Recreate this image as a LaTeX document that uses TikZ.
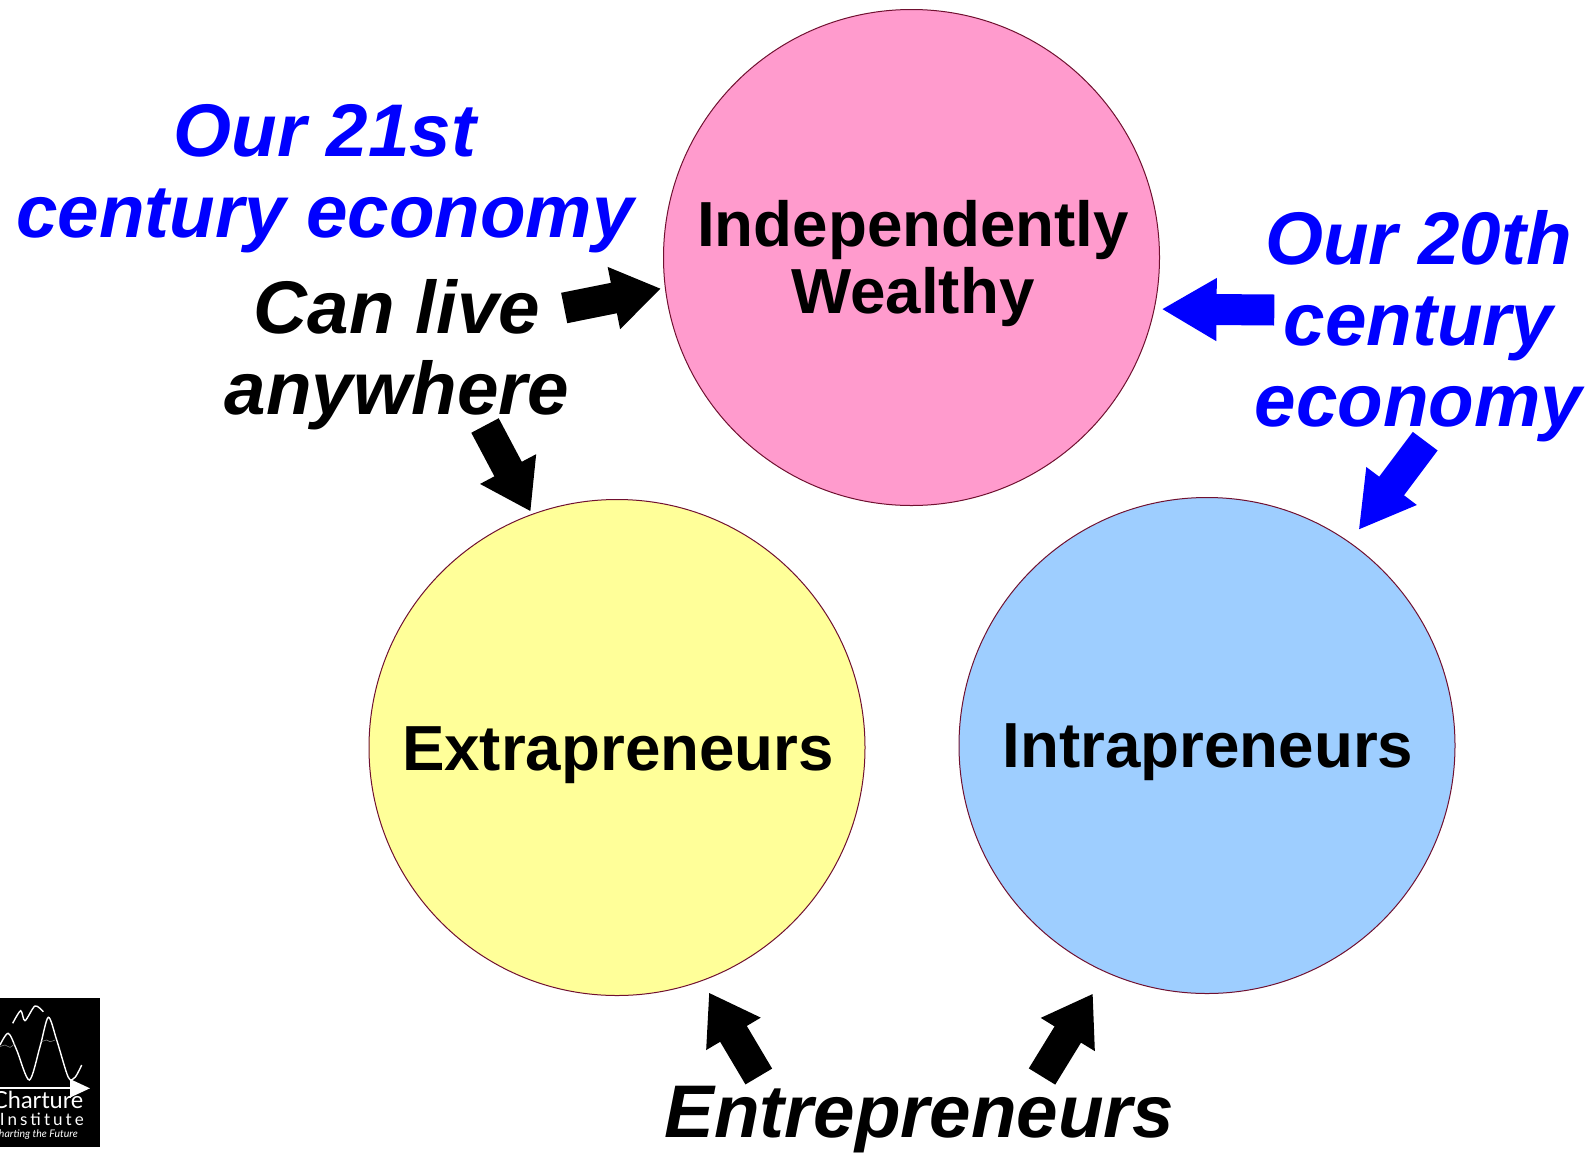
\documentclass[tikz,border=0pt]{standalone}
\usepackage{fontspec}
\setmainfont{Liberation Sans}
\newfontfamily\logofont{Lato}
\newfontfamily\logospaced[LetterSpace=18]{Lato}
\usetikzlibrary{arrows.meta,positioning}

\tikzset{
    realm/.style={circle,draw=realmline,line width=1pt,minimum size=496pt,inner sep=0pt,outer sep=0pt},
    realmtext/.style={align=center,inner sep=0pt,font=\fontsize{63.7}{67}\selectfont\bfseries},
    remark/.style={align=center,inner sep=0pt,font=\fontsize{74.6}{81}\selectfont\bfseries\itshape},
    blackarrow/.style={line width=31pt,draw=black,-{Triangle[length=48pt,width=60pt]}},
    bluearrow/.style={line width=31pt,draw=blue,-{Triangle[length=55pt,width=59pt]}}
}
\definecolor{realmline}{HTML}{701030}
\definecolor{realmpink}{HTML}{FF9BCD}
\definecolor{realmyellow}{HTML}{FFFF99}
\definecolor{realmblue}{HTML}{9ECEFF}

\begin{document}
\begin{tikzpicture}[x=1pt,y=-1pt]
    \useasboundingbox (0,0) rectangle (1588,1152);

    % Circles
    \node[realm,fill=realmpink] (wealthy) at (911.5,257.5) {};
    \node[realm,fill=realmyellow] (extra) at (617,747.5) {};
    \node[realm,fill=realmblue] (intra) at (1207,745.5) {};

    % Circle labels
    \node[realmtext] (wealthytext) at (913,263.5) {Independently\\Wealthy};
    \node[realmtext] (extratext) at (618,755) {Extrapreneurs};
    \node[realmtext] (intratext) at (1208,752) {Intrapreneurs};

    % Remarks
    \node[remark,text=blue] (cent21) at (325,178.5) {Our 21st\\century economy};
    \node[remark] (live) at (397,355) {Can live\\anywhere};
    \node[remark,text=blue] (cent20) at (1418.5,326.5) {Our 20th\\century\\economy};
    \node[remark] (entre) at (919.5,1119.5) {Entrepreneurs};

    % Arrow tails
    \coordinate (livetaila) at (564.2,308);
    \coordinate (livetailb) at (485,425.5);
    \coordinate (centtaila) at (1274.3,310);
    \coordinate (centtailb) at (1425.2,441.2);
    \coordinate (entretaila) at (758.8,1076.5);
    \coordinate (entretailb) at (1042,1076.5);

    % Can live anywhere
    \draw[blackarrow,shorten >=4.5pt] (livetaila) -- (wealthy.187.3);
    \draw[blackarrow,shorten >=3.4pt] (livetailb) -- (extra.110.1);

    % Our 20th century economy
    \draw[bluearrow,shorten >=7.5pt] (centtaila) -- (wealthy.-12.5);
    \draw[bluearrow,shorten >=15.5pt] (centtailb) -- (intra.55.07);

    % Entrepreneurs
    \draw[blackarrow,shorten >=14pt] (entretaila) -- (extra.-70.6);
    \draw[blackarrow,shorten >=25.3pt] (entretailb) -- (intra.-114.5);

    % Logo
    \fill[black] (0,997.5) rectangle (99.5,1147);
    \begin{scope}
        \clip (0,997.5) rectangle (99.5,1147);
        \draw[white,line width=1.4pt] plot[smooth] coordinates {(0,1045) (8.3,1033.3) (16.7,1050) (29.3,1080) (40,1046.7) (48.3,1017.3) (56.7,1040) (68.3,1077.3) (75,1077.3) (81.7,1065)};
        \draw[white,line width=1.4pt] plot[smooth] coordinates {(12.7,1023.3) (20.7,1010.7) (25,1020.7) (35,1006) (43.3,1011.7)};
        \draw[gray,line width=0.6pt] plot[smooth] coordinates {(0,1046.7) (5,1045) (10,1047.3) (15,1043.3)};
        \draw[gray,line width=0.6pt] plot[smooth] coordinates {(41.7,1041.7) (46.7,1040) (50,1041.7) (55,1040)};
        \draw[white,line width=2pt,-{Triangle[length=20pt,width=18pt]}] (0,1088.3) -- (90,1088.3);
        \node[anchor=base east,inner sep=0pt,text=white,font=\logofont\fontsize{23.5}{23.5}\selectfont] (logoname) at (83.5,1108.5) {Charture};
        \node[anchor=base east,inner sep=0pt,text=white,font=\logospaced\fontsize{17}{17}\selectfont] (logoinst) at (84,1125) {Institute};
        \node[anchor=base east,inner sep=0pt,text=white,font=\logofont\itshape\fontsize{10.5}{10.5}\selectfont] (logomotto) at (78,1137.5) {Charting the Future};
    \end{scope}
\end{tikzpicture}
\end{document}
